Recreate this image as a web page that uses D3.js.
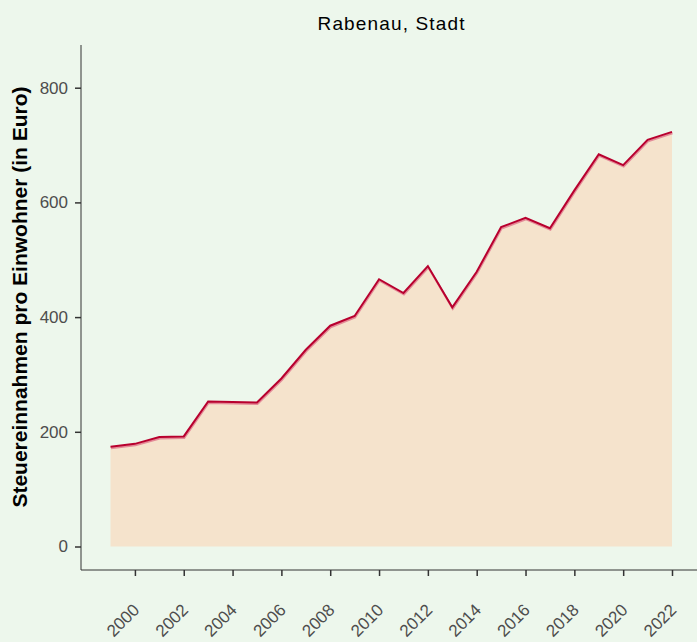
<!DOCTYPE html>
<meta charset="utf-8">
<style>
body { margin: 0; background: #edf7ec; }
svg { display: block; font-family: "Liberation Sans", Arial, sans-serif; }
.area { fill: #f5e3cc; }
.line-main { fill: none; stroke: #b8002e; stroke-width: 2px; }
.line-shadow { fill: none; stroke: #e48a97; stroke-width: 2px; }
.axis path, .axis line { stroke: #333; }
.axis text { fill: #4d4d4d; font-size: 17px; }
</style>
<body>
<script src="https://d3js.org/d3.v7.min.js"></script>
<script>

// the data
var years = [1999, 2000, 2001, 2002, 2003, 2004, 2005, 2006, 2007, 2008, 2009, 2010,
             2011, 2012, 2013, 2014, 2015, 2016, 2017, 2018, 2019, 2020, 2021, 2022];
var values = [174, 179, 191, 192, 253, 252, 251, 293, 343, 385, 402, 466,
              442, 489, 417, 479, 557, 573, 555, 621, 684, 665, 709, 723];
var yTicks = [0, 200, 400, 600, 800];
var xTicks = [2000, 2002, 2004, 2006, 2008, 2010, 2012, 2014, 2016, 2018, 2020, 2022];
var title = "Rabenau, Stadt";
var yLabel = "Steuereinnahmen pro Einwohner (in Euro)";

var data = years.map(function(d, i) { return {year: d, value: values[i]}; });

// dimensions
var W = 697, H = 642;
var margin = {top: 45, right: 0, bottom: 72, left: 81};

var svg = d3.select("body").append("svg")
    .attr("width", W)
    .attr("height", H);

svg.append("rect")
    .attr("width", W).attr("height", H)
    .attr("fill", "#edf7ec");

// scales
var x = d3.scaleLinear().domain([1999, 2022]).range([110.5, 672]);
var y = d3.scaleLinear().domain([0, 800]).range([546.5, 87.7]);

var area = d3.area()
    .x(function(d) { return x(d.year); })
    .y0(y(0))
    .y1(function(d) { return y(d.value); });

var line = d3.line()
    .x(function(d) { return x(d.year); })
    .y(function(d) { return y(d.value); });

svg.append("path")
    .datum(data)
    .attr("class", "area")
    .attr("d", area);

// light offset line under the main one
svg.append("path")
    .datum(data)
    .attr("class", "line-shadow")
    .attr("transform", "translate(0.5,1.5)")
    .attr("d", line);

svg.append("path")
    .datum(data)
    .attr("class", "line-main")
    .attr("d", line);

// y axis
var yAxis = svg.append("g")
    .attr("class", "axis")
    .attr("transform", "translate(" + margin.left + ",0)")
    .call(d3.axisLeft(y).tickValues(yTicks).tickSize(6).tickPadding(7).tickSizeOuter(0));
yAxis.select(".domain").attr("d", "M0,45V570");
yAxis.selectAll(".tick line").attr("stroke-width", 1.5);

// x axis
var xAxis = svg.append("g")
    .attr("class", "axis")
    .attr("transform", "translate(0,570)")
    .call(d3.axisBottom(x).tickValues(xTicks).tickFormat(d3.format("d")).tickSize(6).tickSizeOuter(0));
xAxis.select(".domain").attr("d", "M81,0H697");
xAxis.selectAll(".tick line").attr("stroke-width", 1.5);
xAxis.selectAll(".tick text")
    .attr("text-anchor", "end")
    .attr("dy", null)
    .attr("y", null)
    .attr("font-size", "16px")
    .attr("transform", "translate(5,41) rotate(-45)");

// title
svg.append("text")
    .attr("x", 391)
    .attr("y", 30)
    .attr("text-anchor", "middle")
    .attr("font-size", "19px")
    .attr("textLength", 147)
    .attr("lengthAdjust", "spacing")
    .attr("fill", "#000")
    .text(title);

// y label
svg.append("text")
    .attr("transform", "translate(27,297) rotate(-90)")
    .attr("text-anchor", "middle")
    .attr("font-size", "21px")
    .attr("font-weight", "bold")
    .attr("fill", "#000")
    .text(yLabel);

</script>
</body>
